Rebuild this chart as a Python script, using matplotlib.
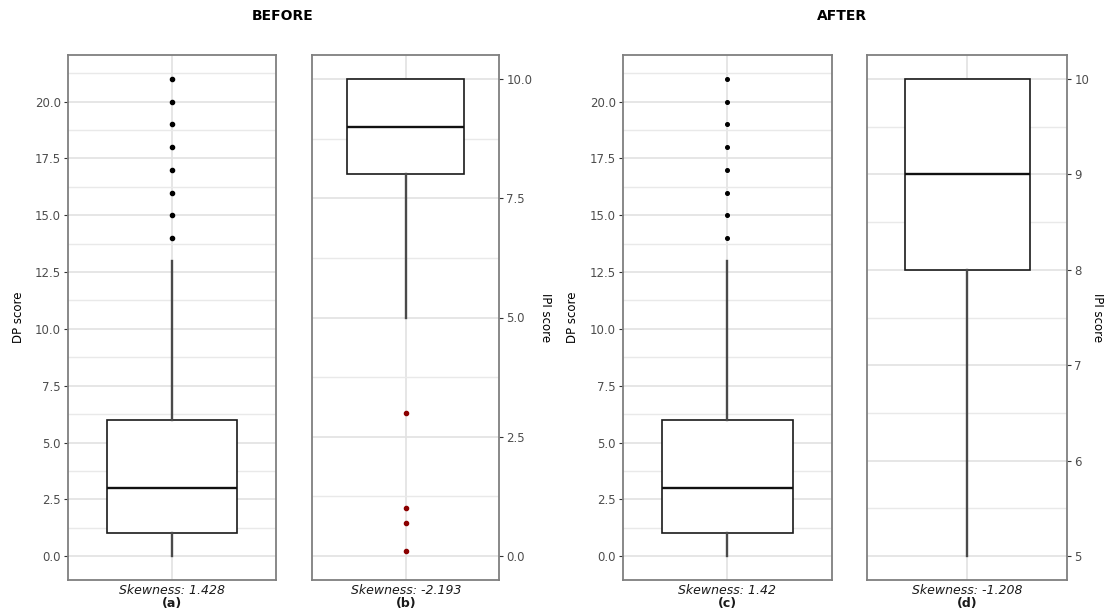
import matplotlib
matplotlib.use("Agg")
import matplotlib.pyplot as plt
from matplotlib.ticker import MultipleLocator

plt.rcParams['font.family'] = ['DejaVu Sans']

# ---- data ----
panels = ["(a)", "(b)", "(c)", "(d)"]
skewness = ["1.428", "-2.193", "1.42", "-1.208"]
ylabels = ["DP score", "IPI score", "DP score", "IPI score"]

dp_before = [0, 1, 3, 6, 13]          # whislo, q1, med, q3, whishi
dp_before_out = [14, 15, 16, 17, 18, 19, 20, 21]
ipi_before = [5, 8, 9, 10, 10]
ipi_before_out = [0.1, 0.7, 1.0, 3.0]
dp_after = [0, 1, 3, 6, 13]
dp_after_out = [14, 15, 16, 17, 18, 19, 20, 21]
ipi_after = [5, 8, 9, 10, 10]
ipi_after_out = []

stats_list = [(dp_before, dp_before_out), (ipi_before, ipi_before_out),
              (dp_after, dp_after_out), (ipi_after, ipi_after_out)]
ylims = [(-1.05, 22.05), (-0.5, 10.5), (-1.05, 22.05), (4.75, 10.25)]
major = [2.5, 2.5, 2.5, 1]
fmt = ["%.1f", "%.1f", "%.1f", "%d"]
right_axis = [False, True, False, True]
flier_colors = ["black", "#8B0000", "black", "black"]
flier_sizes = [3.0, 3.0, 2.6, 2.6]

W, H = 1107, 612
fig = plt.figure(figsize=(W / 100, H / 100), dpi=100)
fig.patch.set_facecolor("white")

# panel frames in pixels: left, right
frames = [(67.7, 276.0), (312.3, 499.3), (622.7, 831.7), (867.3, 1067.3)]
top, bottom = 55.0, 580.0
label_x = [18, 545, 572, 1097]

axes = []
for i, (l, r) in enumerate(frames):
    ax = fig.add_axes([l / W, (H - bottom) / H, (r - l) / W, (bottom - top) / H])
    axes.append(ax)
    vals, outs = stats_list[i]
    st = dict(whislo=vals[0], q1=vals[1], med=vals[2], q3=vals[3], whishi=vals[4],
              fliers=outs, label="")
    ax.bxp([st], positions=[1], widths=0.75, showcaps=False, patch_artist=True,
           boxprops=dict(facecolor="white", edgecolor="#1a1a1a", linewidth=1.2),
           medianprops=dict(color="#111111", linewidth=1.7),
           whiskerprops=dict(color="#4a4a4a", linewidth=1.7),
           flierprops=dict(marker="o", markerfacecolor=flier_colors[i],
                           markeredgecolor=flier_colors[i], markersize=flier_sizes[i]),
           zorder=3)
    ax.set_xlim(0.4, 1.6)
    ax.set_ylim(*ylims[i])
    ax.yaxis.set_major_locator(MultipleLocator(major[i]))
    ax.yaxis.set_minor_locator(MultipleLocator(major[i] / 2))
    ax.yaxis.set_major_formatter(plt.FormatStrFormatter(fmt[i]))
    ax.set_xticks([1])
    ax.set_xticklabels([""])
    ax.tick_params(axis="x", length=0)
    ax.tick_params(axis="y", which="major", length=3, width=0.8, color="#333333",
                   labelsize=8.5, labelcolor="#4D4D4D", pad=2)
    ax.tick_params(axis="y", which="minor", length=0)
    ax.grid(True, which="major", axis="both", color="#E2E2E2", linewidth=1.2, zorder=0)
    ax.grid(True, which="minor", axis="y", color="#E9E9E9", linewidth=1.0, zorder=0)
    ax.set_axisbelow(True)
    for s in ax.spines.values():
        s.set_color("#7F7F7F")
        s.set_linewidth(1.3)
    if right_axis[i]:
        ax.yaxis.tick_right()
        ax.yaxis.set_label_position("right")
        ax.set_ylabel(ylabels[i], fontsize=8.5, rotation=-90, va="center")
    else:
        ax.set_ylabel(ylabels[i], fontsize=8.5, va="center")
    ax.yaxis.set_label_coords((label_x[i] - l) / (r - l), 0.5)
    ax.text(0.5, (bottom - 591) / (bottom - top), "Skewness: " + skewness[i],
            transform=ax.transAxes, ha="center", va="center", fontsize=9,
            style="italic", color="#1a1a1a")
    ax.text(0.5, (bottom - 603) / (bottom - top), panels[i],
            transform=ax.transAxes, ha="center", va="center", fontsize=9,
            fontweight="bold", color="#1a1a1a")

fig.text(283 / W, 1 - 16 / H, "BEFORE", ha="center", va="center",
         fontsize=10, fontweight="bold")
fig.text(842 / W, 1 - 16 / H, "AFTER", ha="center", va="center",
         fontsize=10, fontweight="bold")

fig.savefig("out.png", dpi=100, facecolor="white")
